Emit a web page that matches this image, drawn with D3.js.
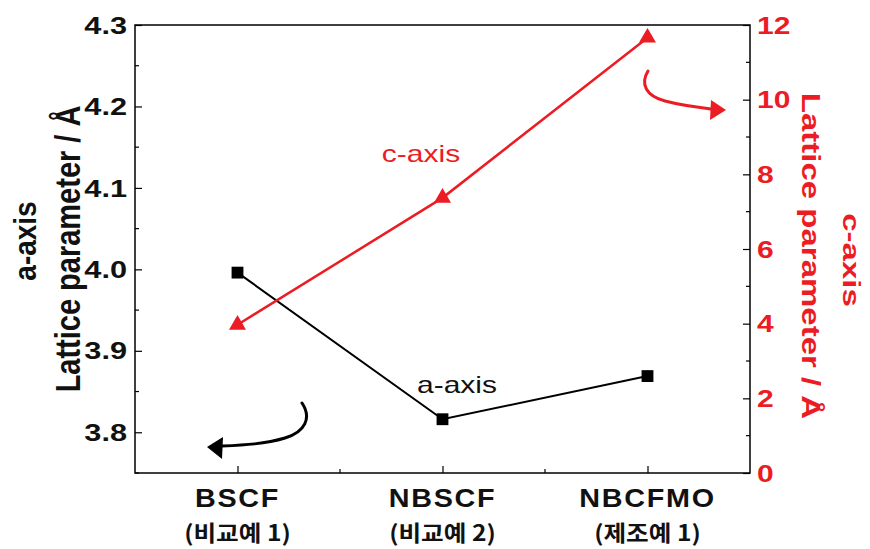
<!DOCTYPE html>
<html>
<head>
<meta charset="utf-8">
<script src="https://cdn.jsdelivr.net/npm/d3@7"></script>
<style>
  body { margin: 0; background: #fff; }
  svg { display: block; }
  text { font-family: "Liberation Sans", Arial, sans-serif; }
  .kr { font-family: "Noto Sans CJK KR", "Liberation Sans", sans-serif; }
</style>
</head>
<body>
<svg id="chart" width="870" height="549"></svg>
<script>
// Samples and their Korean sub-labels
const samples = ["BSCF", "NBSCF", "NBCFMO"];
const sampleNotes = ["(비교예 1)", "(비교예 2)", "(제조예 1)"];

// Lattice parameters (Å)
const aAxis = [3.996, 3.816, 3.869];
const cAxis = [3.97, 7.37, 11.66];

// Axis ticks
const leftTicks = [3.8, 3.9, 4.0, 4.1, 4.2, 4.3];
const leftMinor = [3.75, 3.85, 3.95, 4.05, 4.15, 4.25];
const rightTicks = [0, 2, 4, 6, 8, 10, 12];
const rightMinor = [1, 3, 5, 7, 9, 11];

const RED = "#ec1c24";
const INK = "#111";
const svg = d3.select("#chart");
const m = { left: 135, right: 750, top: 25, bottom: 473 };

const x = d3.scaleLinear().domain([0.5, 3.5]).range([m.left, m.right]);
const yA = d3.scaleLinear().domain([3.75, 4.3]).range([m.bottom, m.top]);
const yC = d3.scaleLinear().domain([0, 12]).range([m.bottom, m.top]);

// Text helper: wide (sx > 1) or narrow (sx < 1) lettering, optional rotation
function label(opts) {
  const t = svg.append("text")
    .attr("transform", `translate(${opts.x},${opts.y}) scale(${opts.sx || 1},1)` + (opts.rot ? ` rotate(${opts.rot})` : ""))
    .attr("text-anchor", opts.anchor || "middle")
    .attr("font-size", opts.size)
    .attr("font-weight", opts.weight || "bold")
    .attr("fill", opts.fill || INK)
    .text(opts.text);
  if (opts.dy) t.attr("dy", opts.dy);
  if (opts.ls) t.attr("letter-spacing", opts.ls);
  if (opts.cls) t.attr("class", opts.cls);
  return t;
}

// Frame
svg.append("rect")
  .attr("x", m.left).attr("y", m.top)
  .attr("width", m.right - m.left).attr("height", m.bottom - m.top)
  .attr("fill", "none").attr("stroke", "#000").attr("stroke-width", 1.5);

// Left axis (inward ticks)
const gL = svg.append("g").attr("transform", `translate(${m.left},0)`);
gL.call(d3.axisLeft(yA).tickValues(leftTicks).tickFormat("").tickSizeInner(-7).tickSizeOuter(0));
gL.select(".domain").remove();
gL.selectAll(".tick line").attr("stroke", "#000").attr("stroke-width", 1.2);
gL.selectAll(".minor").data(leftMinor).join("line").attr("class", "minor")
  .attr("x1", 0).attr("x2", 4).attr("y1", d => yA(d)).attr("y2", d => yA(d))
  .attr("stroke", "#000").attr("stroke-width", 1.2);
leftTicks.forEach(v => label({ x: 127, y: yA(v), dy: "0.36em", sx: 1.28, size: 24, anchor: "end",
  text: d3.format(".1f")(v) }));

// Right axis (inward ticks)
const gR = svg.append("g").attr("transform", `translate(${m.right},0)`);
gR.call(d3.axisRight(yC).tickValues(rightTicks).tickFormat("").tickSizeInner(-7).tickSizeOuter(0));
gR.select(".domain").remove();
gR.selectAll(".tick line").attr("stroke", "#000").attr("stroke-width", 1.2);
gR.selectAll(".minor").data(rightMinor).join("line").attr("class", "minor")
  .attr("x1", 0).attr("x2", -4).attr("y1", d => yC(d)).attr("y2", d => yC(d))
  .attr("stroke", "#000").attr("stroke-width", 1.2);
rightTicks.forEach(v => label({ x: 757, y: yC(v), dy: "0.36em", sx: 1.25, size: 24, anchor: "start",
  fill: RED, text: String(v) }));

// Bottom axis (inward ticks, minor between samples)
const gB = svg.append("g").attr("transform", `translate(0,${m.bottom})`);
gB.call(d3.axisBottom(x).tickValues([1, 2, 3]).tickFormat("").tickSizeInner(-7).tickSizeOuter(0));
gB.select(".domain").remove();
gB.selectAll(".tick line").attr("stroke", "#000").attr("stroke-width", 1.2);
gB.selectAll(".minor").data([1.5, 2.5]).join("line").attr("class", "minor")
  .attr("x1", d => x(d)).attr("x2", d => x(d)).attr("y1", 0).attr("y2", -4)
  .attr("stroke", "#000").attr("stroke-width", 1.2);

// Category labels
samples.forEach((s, i) => {
  label({ x: x(i + 1), y: 507, sx: 1.15, size: 25, ls: 1.5, text: s });
  label({ x: x(i + 1), y: 541, sx: 1.12, size: 22, cls: "kr", text: sampleNotes[i] });
});

// Axis titles
label({ x: 80, y: 249, sx: 1.2, rot: -90, size: 29, text: "Lattice parameter / Å" });
label({ x: 36, y: 241, sx: 1.1, rot: -90, size: 28, text: "a-axis" });
label({ x: 802, y: 256, sx: 0.78, rot: 90, size: 33, fill: RED, text: "Lattice parameter / Å" });
label({ x: 843, y: 260, sx: 0.74, rot: 90, size: 33, fill: RED, text: "c-axis" });

// a-axis series
const lineA = d3.line().x((d, i) => x(i + 1)).y(d => yA(d));
svg.append("path").datum(aAxis).attr("d", lineA)
  .attr("fill", "none").attr("stroke", "#000").attr("stroke-width", 2);
svg.selectAll(".sq").data(aAxis).join("path").attr("class", "sq")
  .attr("transform", (d, i) => `translate(${x(i + 1)},${yA(d)})`)
  .attr("d", d3.symbol(d3.symbolSquare, 140)).attr("fill", "#000");

// c-axis series
const lineC = d3.line().x((d, i) => x(i + 1)).y(d => yC(d));
svg.append("path").datum(cAxis).attr("d", lineC)
  .attr("fill", "none").attr("stroke", RED).attr("stroke-width", 2.5);
svg.selectAll(".tri").data(cAxis).join("path").attr("class", "tri")
  .attr("transform", (d, i) => `translate(${x(i + 1)},${yC(d)})`)
  .attr("d", d3.symbol(d3.symbolTriangle, 125)).attr("fill", RED);

// Series labels
label({ x: 457, y: 393, sx: 1.25, size: 24, weight: "normal", text: "a-axis" });
label({ x: 421, y: 162, sx: 1.25, size: 24, weight: "normal", fill: RED, text: "c-axis" });

// Pointer arrows toward each axis
svg.append("path").attr("d", "M302,403 C312,418 305,432 285,438 C265,444 245,445 222,446")
  .attr("fill", "none").attr("stroke", "#000").attr("stroke-width", 3).attr("stroke-linecap", "round");
svg.append("path").attr("d", "M207,447 L223,437 L222,459 Z").attr("fill", "#000");

svg.append("path").attr("d", "M648,71 C640,84 646,96 665,101 C680,105 695,107 711,109")
  .attr("fill", "none").attr("stroke", RED).attr("stroke-width", 3).attr("stroke-linecap", "round");
svg.append("path").attr("d", "M726,110 L711,100 L710,120 Z").attr("fill", RED);
</script>
</body>
</html>
